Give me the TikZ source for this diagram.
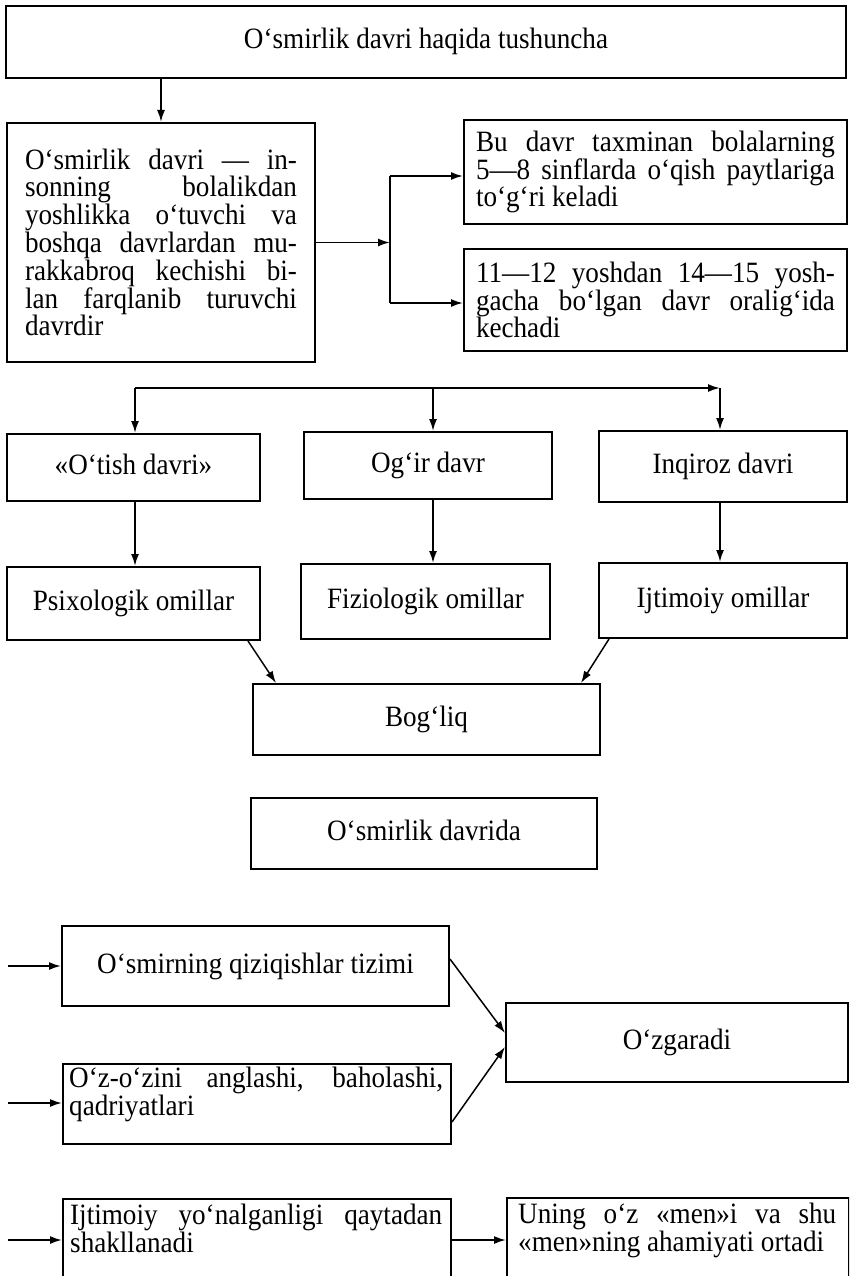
\documentclass[tikz,border=0pt]{standalone}
\usepackage{fontspec}
\setmainfont{Liberation Serif}[FakeStretch=0.92]
\usetikzlibrary{arrows.meta,calc}
\hyphenpenalty=10000
\exhyphenpenalty=10000
\tolerance=9999
\begin{document}
\begin{tikzpicture}[x=1pt,y=-1pt,
  every node/.style={font=\fontsize{29.5}{27.8}\selectfont},
  box/.style={draw, line width=2pt, inner sep=0pt, align=center, text height=20pt, text depth=6pt},
  jbox/.style={draw, line width=2pt, align=justify, inner xsep=12pt, inner ysep=0pt},
  plain/.style={draw, line width=2pt, inner sep=0pt, anchor=north west},
  jtext/.style={anchor=north west, align=justify, inner ysep=6pt},
  arr/.style={line width=1.8pt, -{Latex[length=12pt,width=8pt]}},
  thinarr/.style={line width=1.5pt, -{Latex[length=12pt,width=8pt]}},
  ln/.style={line width=1.8pt}]
\clip (0,0) rectangle (849,1276);
\fill[white] (0,0) rectangle (849,1276);

% top part
\node[box, minimum width=840, minimum height=72] (top) at (426,42) {O‘smirlik davri haqida tushuncha};
\node[jbox, text width=272, inner xsep=18pt, minimum height=239] (def) at (161,242.5)
  {O‘smirlik davri — in-\linebreak sonning bolalikdan\linebreak yoshlikka o‘tuvchi va\linebreak boshqa davrlardan mu-\linebreak rakkabroq kechishi bi-\linebreak lan farqlanib turuvchi\linebreak davrdir};
\node[jbox, text width=359, minimum height=104] (A) at (655.5,172)
  {Bu davr taxminan bolalarning\linebreak 5—8 sinflarda o‘qish paytlariga\linebreak to‘g‘ri keladi};
\node[jbox, text width=359, minimum height=102] (B) at (655.5,300)
  {11—12 yoshdan 14—15 yosh-\linebreak gacha bo‘lgan davr oralig‘ida\linebreak kechadi};

\draw[arr] (top.south -| def.north) -- (def.north);
\coordinate (j) at (390,242.5);
\coordinate (ja) at (390,176);
\coordinate (jb) at (390,303);
\draw[arr] (def.east) -- (j);
\draw[ln] (ja) -- (jb);
\draw[arr] (ja) -- (ja -| A.west);
\draw[arr] (jb) -- (jb -| B.west);

% middle part
\node[box, minimum width=253, minimum height=67] (otish) at (133.5,467.5) {«O‘tish davri»};
\node[box, minimum width=248, minimum height=67] (ogir) at (428,465.5) {Og‘ir davr};
\node[box, minimum width=248, minimum height=71] (inq) at (723,466.5) {Inqiroz davri};
\node[box, minimum width=253, minimum height=73] (psix) at (133.5,603.5) {Psixologik omillar};
\node[box, minimum width=249, minimum height=75] (fizio) at (425.5,601.5) {Fiziologik omillar};
\node[box, minimum width=248, minimum height=75] (ijt) at (723,600.5) {Ijtimoiy omillar};
\node[box, minimum width=347, minimum height=71] (bog) at (426.5,719.5) {Bog‘liq};
\node[box, minimum width=346, minimum height=71] (osm) at (424,833.5) {O‘smirlik davrida};

\coordinate (h1) at (135,388);
\coordinate (h2) at (433,388);
\coordinate (h3) at (720,388);
\draw[arr] (h1) -- (h3);
\draw[arr] (h1) -- (h1 |- otish.north);
\draw[arr] (h2) -- (h2 |- ogir.north);
\draw[arr] (h3) -- (h3 |- inq.north);
\draw[arr] (h1 |- otish.south) -- (h1 |- psix.north);
\draw[arr] (h2 |- ogir.south) -- (h2 |- fizio.north);
\draw[arr] (h3 |- inq.south) -- (h3 |- ijt.north);
\draw[thinarr] ([xshift=-13pt]psix.south east) -- ([xshift=24pt]bog.north west);
\draw[thinarr] ([xshift=11pt]ijt.south west) -- ([xshift=-20pt]bog.north east);

% bottom part
\node[box, minimum width=387, minimum height=80] (qiz) at (255.5,966) {O‘smirning qiziqishlar tizimi};
\node[plain, minimum width=388, minimum height=80] (oz) at (62,1063) {};
\node[jtext, text width=374, inner xsep=7pt, inner ysep=4pt] (ozt) at (oz.north west)
  {O‘z-o‘zini anglashi, baholashi,\linebreak qadriyatlari};
\node[box, minimum width=342, minimum height=79] (ozg) at (677,1042.5) {O‘zgaradi};
\node[plain, minimum width=388, minimum height=100] (soc) at (62,1198) {};
\node[jtext, text width=372, inner xsep=8pt] (soct) at (soc.north west)
  {Ijtimoiy yo‘nalganligi qaytadan\linebreak shakllanadi};
\node[plain, minimum width=342, minimum height=100] (un) at (506,1197) {};
\node[jtext, text width=318, inner xsep=12pt] (unt) at (un.north west)
  {Uning o‘z «men»i va shu\linebreak «men»ning ahamiyati ortadi};

\coordinate (l1) at (8,966);
\coordinate (l2) at (8,1103);
\coordinate (l3) at (8,1240);
\draw[arr] (l1) -- (qiz.west);
\draw[arr] (l2) -- (l2 -| oz.west);
\draw[arr] (l3) -- (l3 -| soc.west);
\draw[arr] (l3 -| soc.east) -- (l3 -| un.west);
\draw[thinarr] ([yshift=-34pt]qiz.north east) -- ([yshift=9.5pt]ozg.west);
\draw[thinarr] ([yshift=23pt]oz.south east) -- ([yshift=-4.5pt]ozg.west);
\end{tikzpicture}
\end{document}
